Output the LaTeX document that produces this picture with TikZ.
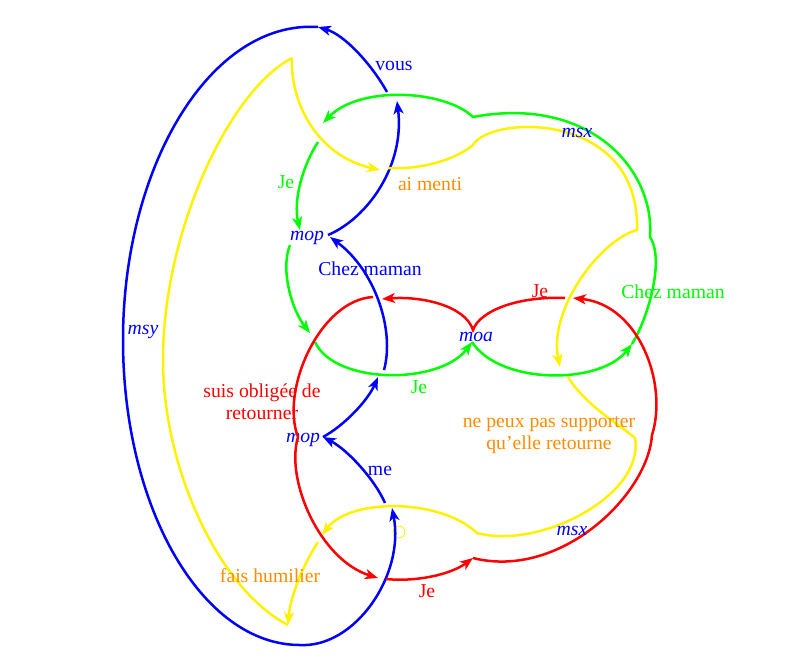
\documentclass[tikz,border=0pt]{standalone}
\usepackage{fontspec}
\setmainfont{Liberation Serif}
\usetikzlibrary{arrows.meta}
\definecolor{lorange}{RGB}{255,140,0}

\begin{document}
\begin{tikzpicture}[x=1pt,y=-1pt,
  txt/.style={font=\fontsize{19.7}{22}\selectfont, inner sep=0pt, anchor=base, align=center},
  nom/.style={txt, text=blue, font=\fontsize{19.7}{22}\selectfont\itshape},
  ln/.style={line width=2.5pt},
  arr/.style={ln, -{Stealth[length=13pt,width=10pt,inset=3.5pt]}}]
\useasboundingbox (0,0) rectangle (787,665);

% names
\node[nom] (mopA) at (307,240) {mop};
\node[nom] (moa) at (476,341) {moa};
\node[nom] (mopB) at (303,442) {mop};
\node[draw=yellow, circle, minimum size=12pt, inner sep=0pt, line width=0.8pt] (rond) at (399,532) {};

% meeting points, blue
\coordinate (bA) at (328,235);
\coordinate (b1) at (397,101);
\coordinate (b2) at (387,92);
\coordinate (bTop) at (318,27);
\coordinate (bL) at (123,340);
\coordinate (bBot) at (300,645);
\coordinate (b3) at (392,508);
\coordinate (b4) at (385,503);
\coordinate (bB) at (323,437);
\coordinate (b5) at (378,377);
\coordinate (b6) at (384,370);
\coordinate (bA2) at (330,237);
% green
\coordinate (gP) at (632,344);
\coordinate (gQ) at (650,237);
\coordinate (gR) at (473,117);
\coordinate (g1) at (323,123);
\coordinate (g2) at (318,142);
\coordinate (g3) at (300,230);
\coordinate (g4) at (290,245);
\coordinate (g5) at (310,333);
\coordinate (g6) at (315,342);
\coordinate (gM) at (472,342);
% red
\coordinate (r1) at (565,298);
\coordinate (rM) at (473,330);
\coordinate (r2) at (382,299);
\coordinate (r3) at (373,297);
\coordinate (rB) at (298,437);
\coordinate (r4) at (378,578);
\coordinate (r5) at (386,579);
\coordinate (rC) at (473,558);
\coordinate (rD) at (652,435);
\coordinate (r6) at (573,298);
% yellow
\coordinate (yTop) at (292,58);
\coordinate (y1) at (380,170);
\coordinate (y2) at (388,168);
\coordinate (yC) at (473,145);
\coordinate (yD) at (637,230);
\coordinate (y3) at (560,367);
\coordinate (y4) at (568,377);
\coordinate (yE) at (635,438);
\coordinate (yF) at (477,533);
\coordinate (y5) at (322,535);
\coordinate (y6) at (318,542);
\coordinate (yBot) at (288,625);
\coordinate (yL) at (163,360);

% blue
\draw[arr, blue] (bA) .. controls (368,218) and (405,165) .. (b1);
\draw[arr, blue] (b2) .. controls (372,65) and (345,35) .. (bTop);
\draw[arr, blue] (bTop) .. controls (210,20) and (123,167) .. (bL)
  .. controls (123,508) and (202,645) .. (bBot) .. controls (355,648) and (405,575) .. (b3);
\draw[arr, blue] (b4) .. controls (375,480) and (348,450) .. (bB);
\draw[arr, blue] (bB) .. controls (345,425) and (368,400) .. (b5);
\draw[arr, blue] (b6) .. controls (395,330) and (375,270) .. (bA2);
% green
\draw[arr, green] (gP) .. controls (648,318) and (665,260) .. (gQ)
  .. controls (655,170) and (590,95) .. (gR) .. controls (445,90) and (360,85) .. (g1);
\draw[arr, green] (g2) .. controls (303,165) and (293,200) .. (g3);
\draw[arr, green] (g4) .. controls (280,270) and (292,310) .. (g5);
\draw[arr, green] (g6) .. controls (335,385) and (440,385) .. (gM);
\draw[arr, green] (gM) .. controls (500,385) and (600,385) .. (gP);
% red
\draw[arr, red] (r1) .. controls (520,296) and (480,310) .. (rM) .. controls (465,305) and (420,296) .. (r2);
\draw[arr, red] (r3) .. controls (320,300) and (280,390) .. (rB) .. controls (285,480) and (320,560) .. (r4);
\draw[arr, red] (r5) .. controls (415,582) and (450,575) .. (rC);
\draw[arr, red] (rC) .. controls (560,580) and (648,495) .. (rD) .. controls (668,385) and (640,305) .. (r6);
% yellow
\draw[arr, yellow] (yTop) .. controls (290,100) and (315,155) .. (y1);
\draw[arr, yellow] (y2) .. controls (420,170) and (455,160) .. (yC)
  .. controls (490,115) and (640,110) .. (yD) .. controls (600,240) and (548,310) .. (y3);
\draw[arr, yellow] (y4) .. controls (585,405) and (620,425) .. (yE)
  .. controls (645,495) and (540,550) .. (yF) .. controls (440,498) and (350,498) .. (y5);
\draw[arr, yellow] (y6) .. controls (300,570) and (290,600) .. (yBot);
\draw[ln, yellow] (yBot) .. controls (220,590) and (163,470) .. (yL) .. controls (163,230) and (230,90) .. (yTop);

% labels
\node[txt, blue] (vous) at (394,70) {vous};
\node[txt, lorange] (menti) at (430,190) {ai menti};
\node[nom] (msxA) at (577,137) {msx};
\node[txt, green] (jeA) at (286,188) {Je};
\node[txt, blue] (chezA) at (370,275) {Chez maman};
\node[txt, red] (jeB) at (540,297) {Je};
\node[txt, green] (chezB) at (673,298) {Chez maman};
\node[nom] (msy) at (143,334) {msy};
\node[txt, green] (jeC) at (419,393) {Je};
\node[txt, red] (oblige) at (262,419) {suis obligée de\\retourner};
\node[txt, lorange] (supporter) at (549,449) {ne peux pas supporter\\qu’elle retourne};
\node[txt, blue] (me) at (380,475) {me};
\node[nom] (msxB) at (572,535) {msx};
\node[txt, lorange] (humilier) at (270,582) {fais humilier};
\node[txt, red] (jeD) at (427,597) {Je};
\end{tikzpicture}
\end{document}
